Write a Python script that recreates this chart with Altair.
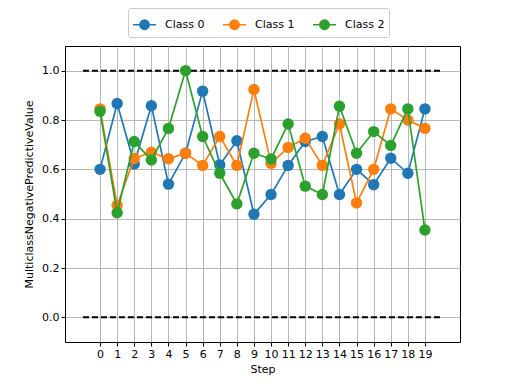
import altair as alt
import pandas as pd

steps = list(range(20))
class0 = [0.60, 0.867, 0.622, 0.858, 0.54, 0.665, 0.917, 0.618, 0.716, 0.418,
          0.498, 0.616, 0.713, 0.733, 0.498, 0.60, 0.538, 0.645, 0.584, 0.845]
class1 = [0.845, 0.454, 0.644, 0.669, 0.643, 0.665, 0.616, 0.733, 0.616, 0.924,
          0.624, 0.689, 0.726, 0.616, 0.784, 0.464, 0.60, 0.845, 0.80, 0.766]
class2 = [0.835, 0.424, 0.713, 0.638, 0.766, 1.0, 0.733, 0.584, 0.46, 0.665,
          0.642, 0.784, 0.532, 0.498, 0.856, 0.665, 0.753, 0.697, 0.845, 0.354]
class_names = ["Class 0", "Class 1", "Class 2"]
colors = ["#1f77b4", "#ff7f0e", "#2ca02c"]
ref_x = [-1, 20]
ref_levels = [0.0, 1.0]
y_ticks = [0.0, 0.2, 0.4, 0.6, 0.8, 1.0]

rows = []
for name, vals in zip(class_names, [class0, class1, class2]):
    for s, v in zip(steps, vals):
        rows.append({"Step": s, "value": v, "cls": name})
df = pd.DataFrame(rows)

ref_rows = []
for i, lvl in enumerate(ref_levels):
    for xv in ref_x:
        ref_rows.append({"Step": xv, "value": lvl, "g": i})
ref_df = pd.DataFrame(ref_rows)

xscale = alt.Scale(domain=[-2.05, 21.05], nice=False, zero=False)
yscale = alt.Scale(domain=[-0.1, 1.1], nice=False, zero=False)
cscale = alt.Scale(domain=class_names, range=colors)

xax = alt.Axis(values=steps, format="d", title="Step", grid=True, labelFlush=False)
yax = alt.Axis(values=y_ticks, format=".1f", title="MulticlassNegativePredictiveValue",
               grid=True, titlePadding=7)

legend_path = "M-1,0H1M0.4,0A0.4,0.4,0,1,1,-0.4,0A0.4,0.4,0,1,1,0.4,0Z"

ref = alt.Chart(ref_df).mark_line(color="black", strokeDash=[6, 3], strokeWidth=2).encode(
    x=alt.X("Step:Q", scale=xscale, axis=xax),
    y=alt.Y("value:Q", scale=yscale, axis=yax),
    detail="g:N",
)

layers = [ref]
for name in class_names:
    base = alt.Chart(df).transform_filter(alt.datum.cls == name).encode(
        x=alt.X("Step:Q", scale=xscale, axis=xax),
        y=alt.Y("value:Q", scale=yscale, axis=yax),
        color=alt.Color("cls:N", scale=cscale,
                        legend=alt.Legend(title=None, orient="none", direction="horizontal",
                                          legendX=63, legendY=-38,
                                          symbolType=legend_path, symbolSize=529,
                                          symbolStrokeWidth=1.7, columnPadding=14,
                                          labelOffset=8,
                                          labelFontSize=11, labelFont="DejaVu Sans",
                                          labelColor="black",
                                          padding=4, strokeColor="#cccccc",
                                          fillColor="white", cornerRadius=2)),
    )
    layers.append(base.mark_line(strokeWidth=1.7))
    layers.append(base.mark_point(filled=True, size=130, opacity=1))

chart = alt.layer(*layers).properties(
    width=395, height=296,
    autosize=alt.AutoSizeParams(type="none"),
    padding={"left": 57, "top": 38, "right": 40, "bottom": 34},
).configure_view(
    stroke="black", strokeWidth=1
).configure_axis(
    gridColor="#b0b0b0", gridWidth=0.9, domain=False, tickColor="black", tickSize=4,
    labelFont="DejaVu Sans", titleFont="DejaVu Sans", labelFontSize=11, titleFontSize=11,
    titleFontWeight="normal", labelColor="black", titleColor="black",
)

chart.save("out.html", embed_options={"renderer": "svg", "actions": False})
